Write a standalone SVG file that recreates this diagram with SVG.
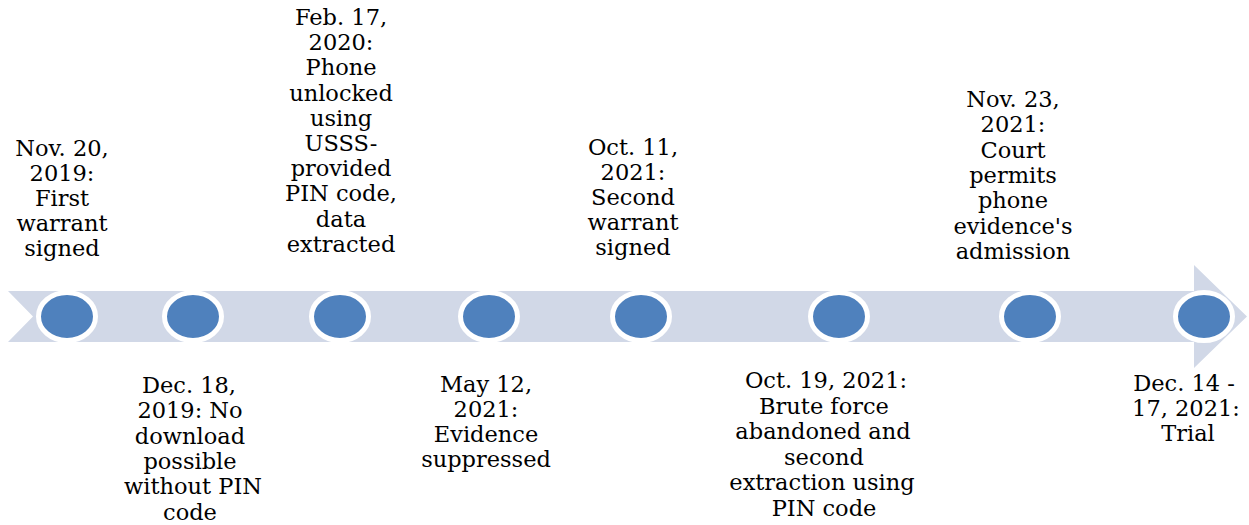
<svg xmlns="http://www.w3.org/2000/svg" width="1249" height="525" viewBox="0 0 1249 525">
<style>
.lbl{font-family:"DejaVu Serif","Liberation Serif",serif;font-size:22.5px;fill:#000;text-anchor:middle}
.dot{fill:#4F81BD;stroke:#FFFFFF;stroke-width:5}
</style>
<rect width="1249" height="525" fill="#fff"/>
<g id="band">
<polygon points="8,291 1194,291 1194,265 1247,316.5 1194,368 1194,342 8,342 33,316.5" fill="#D1D8E7"/>
</g>
<g id="connectors"></g>
<g id="n1"><ellipse class="dot" cx="67" cy="316.5" rx="28.5" ry="24"/>
<text class="lbl" y="156"><tspan x="62">Nov. 20,</tspan><tspan x="62" dy="25">2019:</tspan><tspan x="62" dy="25">First</tspan><tspan x="62" dy="25">warrant</tspan><tspan x="62" dy="25">signed</tspan></text></g>
<g id="n2"><ellipse class="dot" cx="193" cy="316.5" rx="28.5" ry="24"/>
<text class="lbl" y="393"><tspan x="189">Dec. 18,</tspan><tspan x="190" dy="25.3">2019: No</tspan><tspan x="190" dy="25.3">download</tspan><tspan x="190" dy="25.3">possible</tspan><tspan x="193" dy="25.3">without PIN</tspan><tspan x="190" dy="25.3">code</tspan></text></g>
<g id="n3"><ellipse class="dot" cx="340" cy="316.5" rx="28.5" ry="24"/>
<text class="lbl" y="25"><tspan x="341">Feb. 17,</tspan><tspan x="341" dy="25.2">2020:</tspan><tspan x="341" dy="25.2">Phone</tspan><tspan x="341" dy="25.2">unlocked</tspan><tspan x="341" dy="25.2">using</tspan><tspan x="341" dy="25.2">USSS-</tspan><tspan x="341" dy="25.2">provided</tspan><tspan x="341" dy="25.2">PIN code,</tspan><tspan x="341" dy="25.2">data</tspan><tspan x="341" dy="25.2">extracted</tspan></text></g>
<g id="n4"><ellipse class="dot" cx="489" cy="316.5" rx="28.5" ry="24"/>
<text class="lbl" y="392"><tspan x="486">May 12,</tspan><tspan x="486" dy="25">2021:</tspan><tspan x="486" dy="25">Evidence</tspan><tspan x="486" dy="25">suppressed</tspan></text></g>
<g id="n5"><ellipse class="dot" cx="641" cy="316.5" rx="28.5" ry="24"/>
<text class="lbl" y="155"><tspan x="633">Oct. 11,</tspan><tspan x="633" dy="25">2021:</tspan><tspan x="633" dy="25">Second</tspan><tspan x="633" dy="25">warrant</tspan><tspan x="633" dy="25">signed</tspan></text></g>
<g id="n6"><ellipse class="dot" cx="839" cy="316.5" rx="28.5" ry="24"/>
<text class="lbl" y="388"><tspan x="826">Oct. 19, 2021:</tspan><tspan x="824" dy="25.6">Brute force</tspan><tspan x="823" dy="25.6">abandoned and</tspan><tspan x="824" dy="25.6">second</tspan><tspan x="822" dy="25.6">extraction using</tspan><tspan x="824" dy="25.6">PIN code</tspan></text></g>
<g id="n7"><ellipse class="dot" cx="1030" cy="316.5" rx="28.5" ry="24"/>
<text class="lbl" y="107"><tspan x="1013">Nov. 23,</tspan><tspan x="1013" dy="25.3">2021:</tspan><tspan x="1013" dy="25.3">Court</tspan><tspan x="1013" dy="25.3">permits</tspan><tspan x="1013" dy="25.3">phone</tspan><tspan x="1013" dy="25.3">evidence's</tspan><tspan x="1013" dy="25.3">admission</tspan></text></g>
<g id="n8"><ellipse class="dot" cx="1204" cy="316.5" rx="28.5" ry="24"/>
<text class="lbl" y="391"><tspan x="1184">Dec. 14 -</tspan><tspan x="1186" dy="25">17, 2021:</tspan><tspan x="1188" dy="25">Trial</tspan></text></g>
</svg>
